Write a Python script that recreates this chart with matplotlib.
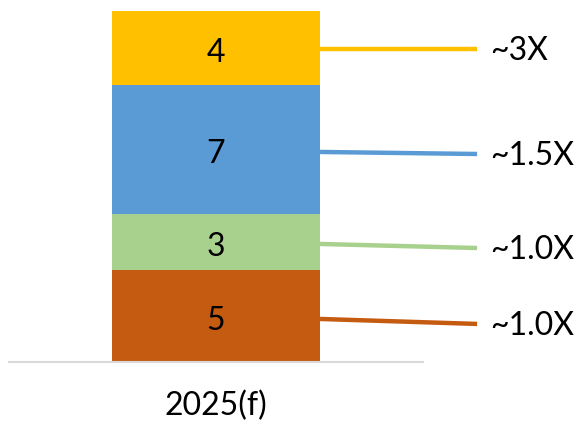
import matplotlib
matplotlib.use("Agg")
import matplotlib.pyplot as plt

category = "2025(f)"
values = [5, 3, 7, 4]
multiples = ["~1.0X", "~1.0X", "~1.5X", "~3X"]
colors = ["#C55A11", "#A9D18E", "#5B9BD5", "#FFC000"]

plt.rcParams["font.family"] = ["Lato", "DejaVu Sans"]

fig = plt.figure(figsize=(5.81, 4.26), dpi=100)
# axes placed so that the baseline sits at y~362px and the bar top at ~11px
ax = fig.add_axes([9 / 581, (426 - 362) / 426, 414 / 581, 351 / 426])
ax.set_xlim(-0.995, 0.995)
ax.set_ylim(0, sum(values))

# leader lines droop slightly toward the right, like the original
drops = [0.27, 0.22, 0.11, 0.0]
offsets = [0.17, 0.11, 0.13, 0.05]

bottom = 0
for i, (v, lab, c) in enumerate(zip(values, multiples, colors)):
    ax.bar(0, v, width=1.0, bottom=bottom, color=c, edgecolor="none")
    mid = bottom + v / 2
    ax.text(0, mid - 0.1, str(v), ha="center", va="center_baseline", fontsize=23, color="black")
    y0 = mid - offsets[i]
    y1 = y0 - drops[i]
    ax.plot([0.5, 1.255], [y0, y1], color=c, lw=3.2, solid_capstyle="butt", clip_on=False)
    ax.text(1.32, y1 + 0.05, lab, ha="left", va="center_baseline", fontsize=23,
            color="black", clip_on=False)
    bottom += v

for s in ["top", "right", "left"]:
    ax.spines[s].set_visible(False)
ax.spines["bottom"].set_color("#D9D9D9")
ax.spines["bottom"].set_linewidth(1.5)
ax.set_yticks([])
ax.set_xticks([0])
ax.set_xticklabels([category], fontsize=23)
ax.tick_params(axis="x", length=0, pad=21)

fig.savefig("out.png", dpi=100)
